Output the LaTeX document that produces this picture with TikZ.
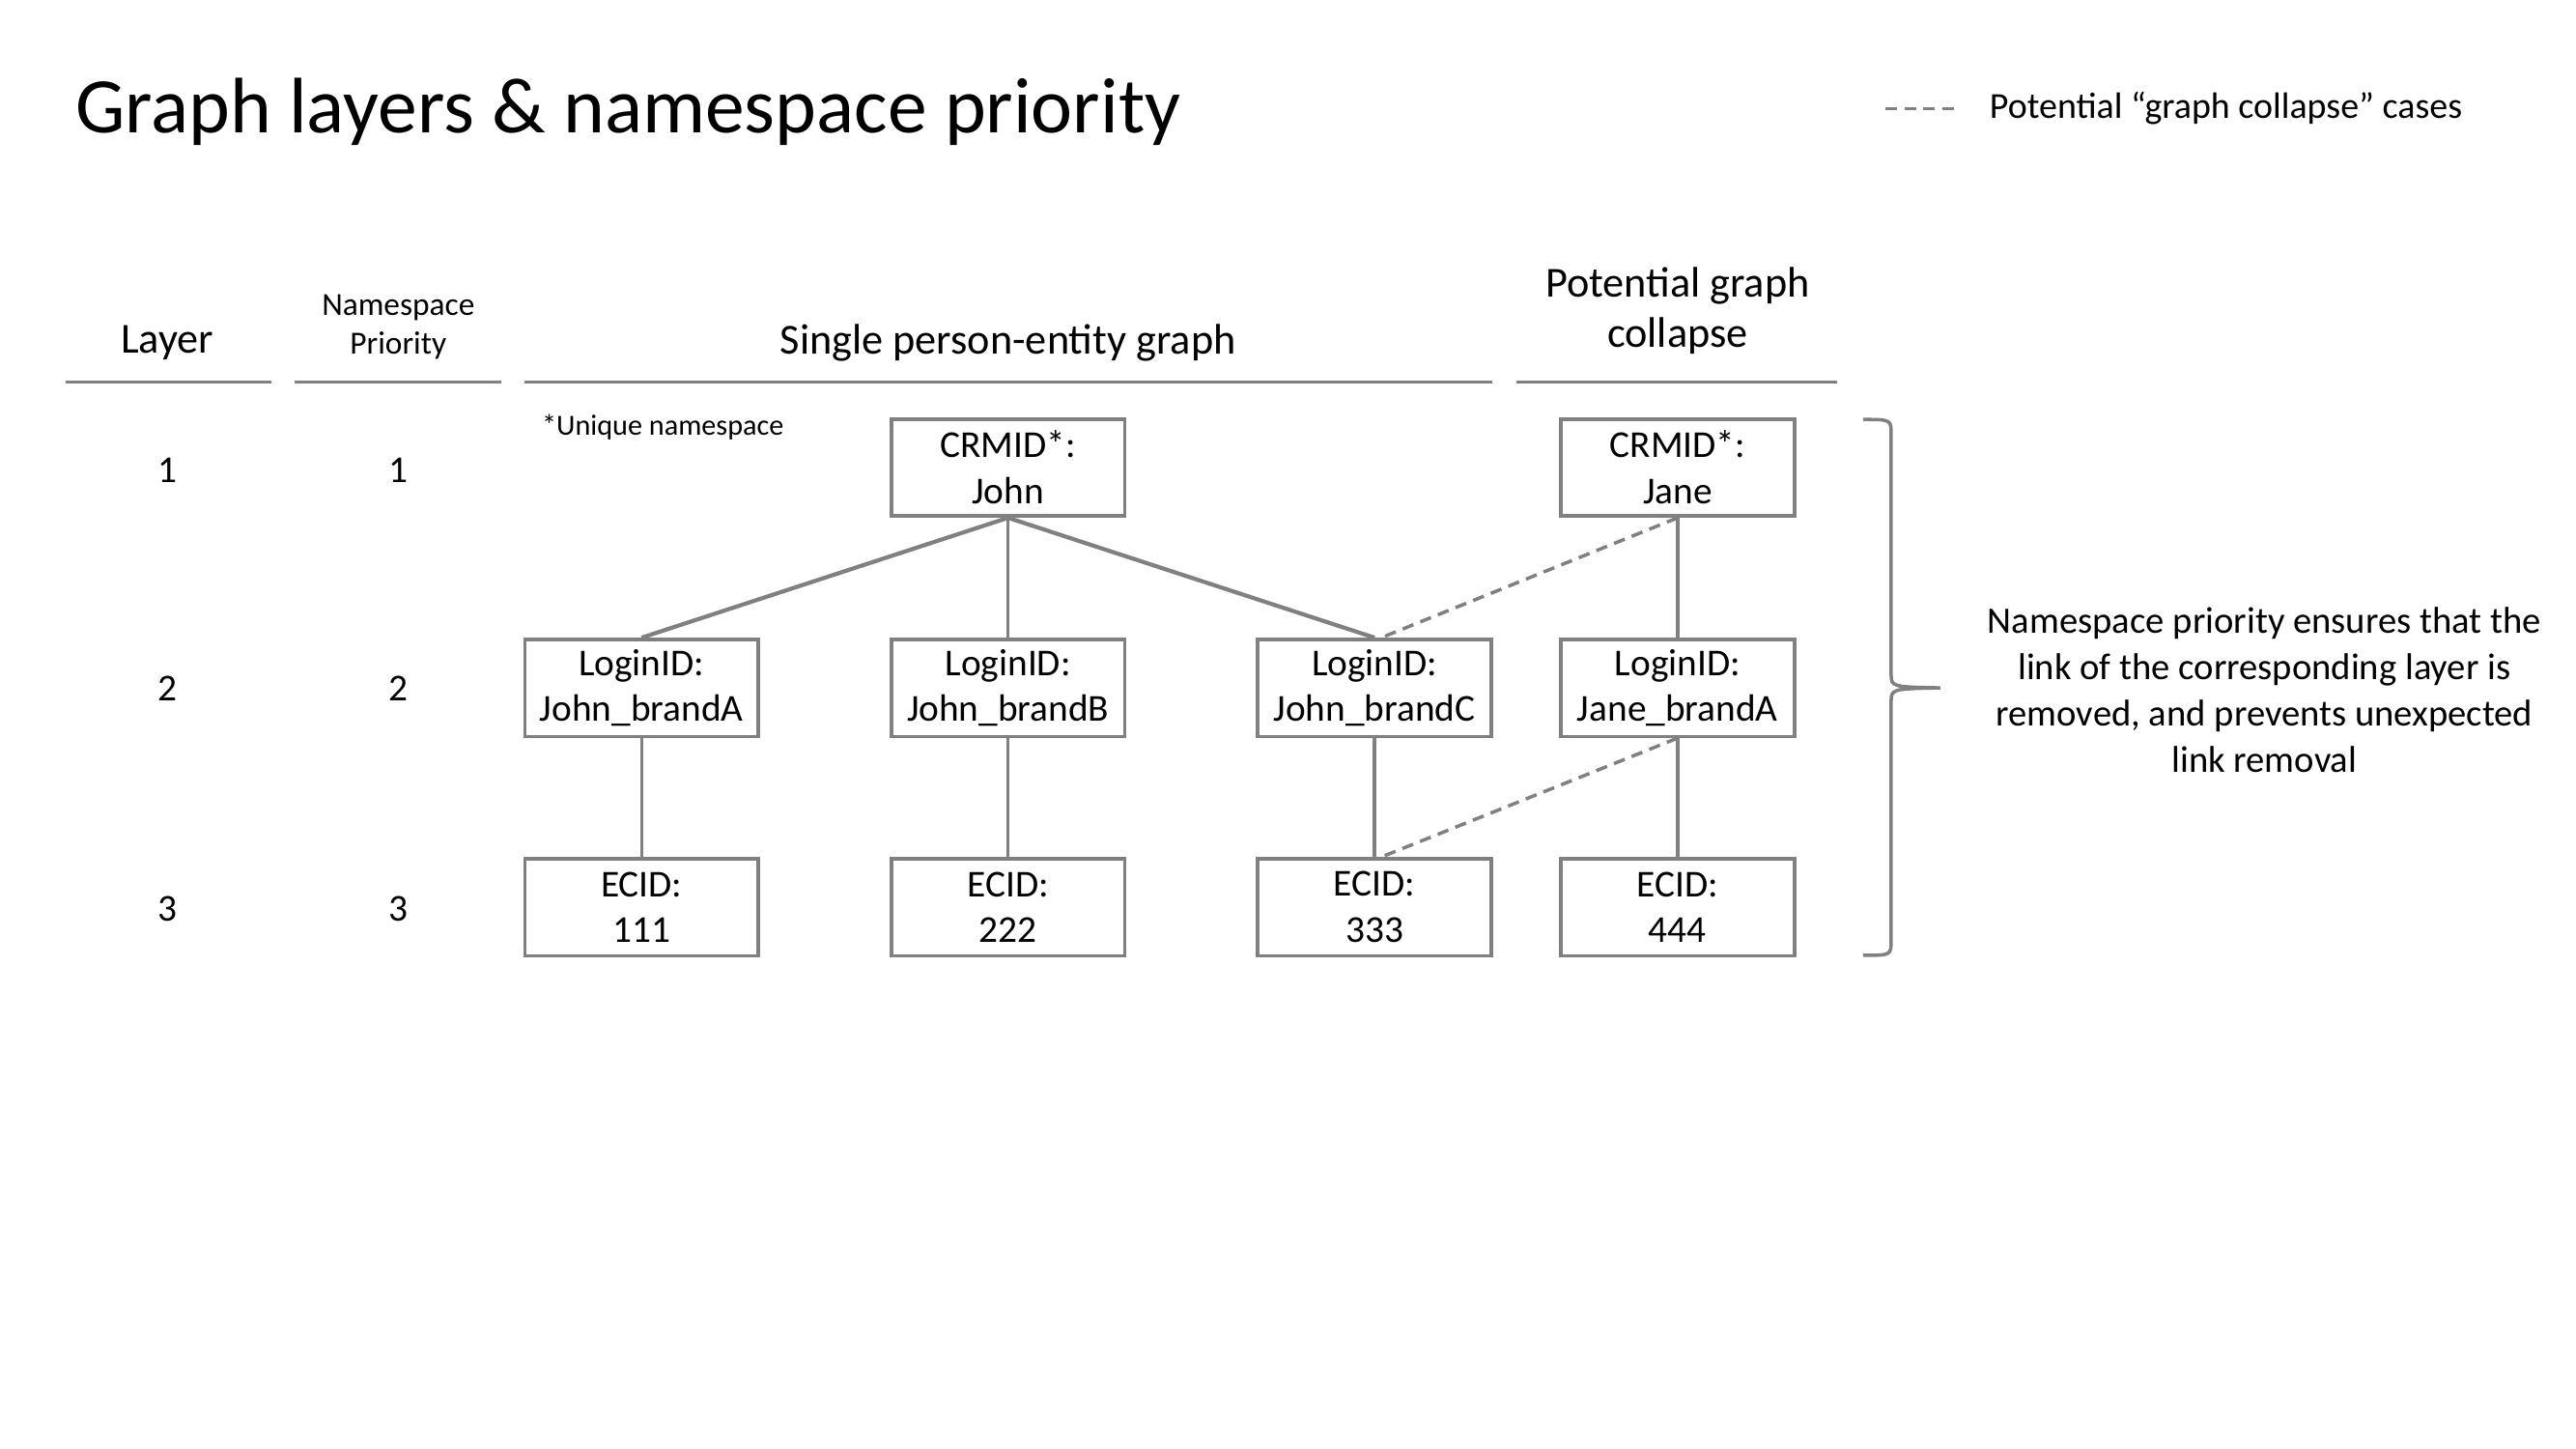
\documentclass[tikz,border=0pt]{standalone}
\usepackage{fontspec}
\setmainfont{Carlito}
\usetikzlibrary{positioning}
\definecolor{linegray}{HTML}{808080}

\begin{document}
\begin{tikzpicture}[x=0.00996cm, y=-0.00996cm,
    idbox/.style={draw=linegray, line width=1pt, minimum width=2.42cm, minimum height=1.005cm,
        inner sep=0pt, align=center, font=\fontsize{11.2}{13.6}\selectfont},
    link/.style={draw=linegray, line width=1pt},
    toplink/.style={draw=linegray, line width=1.2pt},
    collapse/.style={draw=linegray, line width=1pt, dash pattern=on 3.4pt off 2.2pt},
    headline/.style={draw=linegray, line width=0.8pt},
    rownum/.style={font=\fontsize{11.2}{13.6}\selectfont}
    ]
\useasboundingbox (0,0) rectangle (2678,1506);
% title and legend
\node[anchor=west, font=\fontsize{23.2}{28}\selectfont] at (66,116) (title) {Graph layers \& namespace priority};
\coordinate (legA) at (1960,113);
\coordinate (legB) at (2031,113);
\draw[collapse] (legA) -- (legB);
\node[anchor=west, font=\fontsize{10.8}{13.6}\selectfont] at (2056,113) (legend) {Potential “graph collapse” cases};
% column headers
\node[font=\fontsize{12.6}{15}\selectfont] at (174,356) (hlayer) {Layer};
\node[align=center, font=\fontsize{9.5}{11.2}\selectfont] at (414,340) (hprio) {Namespace\\Priority};
\node[font=\fontsize{12.6}{15}\selectfont] at (1048,356) (hsingle) {Single person-entity graph};
\node[align=center, font=\fontsize{12.6}{15}\selectfont] at (1744,323) (hcollapse) {Potential graph\\collapse};
\draw[headline] (68,397) -- (282,397);
\draw[headline] (306,397) -- (521,397);
\draw[headline] (545,397) -- (1551,397);
\draw[headline] (1576,397) -- (1910,397);
\node[anchor=west, font=\fontsize{8.6}{10.4}\selectfont] at (551,444) (unique) {*Unique namespace};
% layer and priority numbers
\node[rownum] at (174,489) (l1) {1};
\node[rownum] at (414,489) (p1) {1};
\node[rownum] at (174,716) (l2) {2};
\node[rownum] at (414,716) (p2) {2};
\node[rownum] at (174,945) (l3) {3};
\node[rownum] at (414,945) (p3) {3};
% identity nodes
\node[idbox] at (1048,486) (crmJohn) {CRMID*:\\John};
\node[idbox] at (1744,486) (crmJane) {CRMID*:\\Jane};
\node[idbox] at (667,715) (loginA) {LoginID:\\John\_brandA};
\node[idbox] at (1048,715) (loginB) {LoginID:\\John\_brandB};
\node[idbox] at (1429,715) (loginC) {LoginID:\\John\_brandC};
\node[idbox] at (1744,715) (loginJane) {LoginID:\\Jane\_brandA};
\node[idbox] at (667,943) (ecid1) {ECID:\\111};
\node[idbox] at (1048,943) (ecid2) {ECID:\\222};
\node[idbox] at (1429,943) (ecid3) {ECID:\\333};
\node[idbox] at (1744,943) (ecid4) {ECID:\\444};
% links
\draw[toplink] (crmJohn.south) -- (loginA.north);
\draw[link] (crmJohn.south) -- (loginB.north);
\draw[toplink] (crmJohn.south) -- (loginC.north);
\draw[link] (crmJane.south) -- (loginJane.north);
\draw[link] (loginA.south) -- (ecid1.north);
\draw[link] (loginB.south) -- (ecid2.north);
\draw[link] (loginC.south) -- (ecid3.north);
\draw[link] (loginJane.south) -- (ecid4.north);
\draw[collapse] (crmJane.south) -- ([xshift=2pt]loginC.north);
\draw[collapse] (loginJane.south) -- ([xshift=2pt]ecid3.north);
% brace
\coordinate (braceTop) at (1937,436);
\coordinate (braceTip) at (2017,715);
\coordinate (braceBot) at (1937,993);
\draw[link] (braceTop) .. controls (1966,436) .. (1966,452) -- (1966,700)
    .. controls (1966,714) .. (braceTip) .. controls (1966,716) .. (1966,730) -- (1966,977)
    .. controls (1966,993) .. (braceBot);
\node[align=center, font=\fontsize{11}{13.6}\selectfont] at (2354,717) (note)
    {Namespace priority ensures that the\\link of the corresponding layer is\\removed, and prevents unexpected\\link removal};
\end{tikzpicture}
\end{document}
